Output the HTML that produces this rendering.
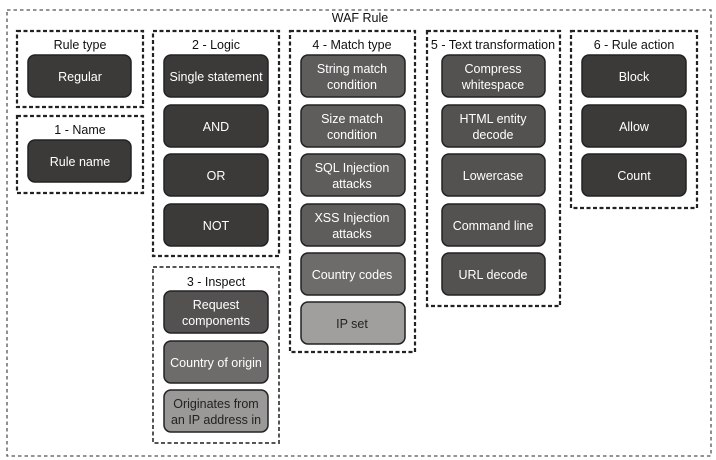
<!DOCTYPE html>
<html><head><style>body{margin:0;background:#fff}svg{display:block}text{font-family:"Liberation Sans",sans-serif;text-anchor:middle}</style></head><body>
<svg width="716" height="460" viewBox="0 0 716 460" xmlns="http://www.w3.org/2000/svg">
<g fill="none">
<rect x="7" y="10" width="704" height="446" stroke="#555" stroke-width="1.3" stroke-dasharray="3.5,3"/>
<g stroke="#222" stroke-width="2.2" stroke-dasharray="4,2.5">
<rect x="17" y="31" width="126" height="76"/>
<rect x="17" y="116" width="126" height="77"/>
<rect x="153" y="31" width="126" height="225"/>
<rect x="290" y="31" width="125" height="321"/>
<rect x="427" y="31" width="133" height="275"/>
<rect x="571" y="31" width="126" height="177"/>
</g>
<rect x="153" y="267" width="126" height="176" stroke="#555" stroke-width="2" stroke-dasharray="4,2.5"/>
</g>
<g font-size="12.5" fill="#111">
<text x="360" y="22">WAF Rule</text>
<text x="80" y="49">Rule type</text>
<text x="80" y="134">1 - Name</text>
<text x="216" y="49">2 - Logic</text>
<text x="216" y="286">3 - Inspect</text>
<text x="352" y="49">4 - Match type</text>
<text x="493" y="49">5 - Text transformation</text>
<text x="634" y="49">6 - Rule action</text>
</g>
<g stroke="#222" stroke-width="1.5">
<rect x="28" y="55" width="103" height="42" rx="7" fill="#3c3a39"/>
<rect x="28" y="140" width="103" height="42" rx="7" fill="#3c3a39"/>
<rect x="164" y="55" width="104" height="42" rx="7" fill="#3c3a39"/>
<rect x="164" y="105" width="104" height="42" rx="7" fill="#3c3a39"/>
<rect x="164" y="154" width="104" height="42" rx="7" fill="#3c3a39"/>
<rect x="164" y="204" width="104" height="42" rx="7" fill="#3c3a39"/>
<rect x="164" y="291" width="104" height="42" rx="7" fill="#545250"/>
<rect x="164" y="341" width="104" height="42" rx="7" fill="#6e6c6a"/>
<rect x="164" y="390" width="104" height="42" rx="7" fill="#9a9998"/>
<rect x="301" y="55" width="104" height="42" rx="7" fill="#5f5d5b"/>
<rect x="301" y="105" width="104" height="42" rx="7" fill="#5f5d5b"/>
<rect x="301" y="154" width="104" height="42" rx="7" fill="#5f5d5b"/>
<rect x="301" y="204" width="104" height="42" rx="7" fill="#5f5d5b"/>
<rect x="301" y="253" width="104" height="42" rx="7" fill="#6e6c6a"/>
<rect x="301" y="302" width="104" height="42" rx="7" fill="#a09f9e"/>
<rect x="442" y="55" width="103" height="42" rx="7" fill="#545250"/>
<rect x="442" y="105" width="103" height="42" rx="7" fill="#545250"/>
<rect x="442" y="154" width="103" height="42" rx="7" fill="#545250"/>
<rect x="442" y="204" width="103" height="42" rx="7" fill="#545250"/>
<rect x="442" y="253" width="103" height="42" rx="7" fill="#545250"/>
<rect x="582" y="55" width="104" height="42" rx="7" fill="#3c3a39"/>
<rect x="582" y="105" width="104" height="42" rx="7" fill="#3c3a39"/>
<rect x="582" y="154" width="104" height="42" rx="7" fill="#3c3a39"/>
</g>
<g font-size="12.5" fill="#fff">
<text x="80" y="81">Regular</text>
<text x="80" y="166">Rule name</text>
<text x="216" y="81">Single statement</text>
<text x="216" y="131">AND</text>
<text x="216" y="180">OR</text>
<text x="216" y="230">NOT</text>
<text x="216" y="309">Request</text><text x="216" y="325">components</text>
<text x="216" y="367">Country of origin</text>
<text x="352" y="73">String match</text><text x="352" y="89">condition</text>
<text x="352" y="123">Size match</text><text x="352" y="139">condition</text>
<text x="352" y="172">SQL Injection</text><text x="352" y="188">attacks</text>
<text x="352" y="222">XSS Injection</text><text x="352" y="238">attacks</text>
<text x="352" y="279">Country codes</text>
<text x="493" y="73">Compress</text><text x="493" y="89">whitespace</text>
<text x="493" y="123">HTML entity</text><text x="493" y="139">decode</text>
<text x="493" y="180">Lowercase</text>
<text x="493" y="230">Command line</text>
<text x="493" y="279">URL decode</text>
<text x="634" y="81">Block</text>
<text x="634" y="131">Allow</text>
<text x="634" y="180">Count</text>
</g>
<g font-size="12.5" fill="#222">
<text x="216" y="408">Originates from</text><text x="216" y="424">an IP address in</text>
<text x="352" y="328">IP set</text>
</g>
</svg>
</body></html>
